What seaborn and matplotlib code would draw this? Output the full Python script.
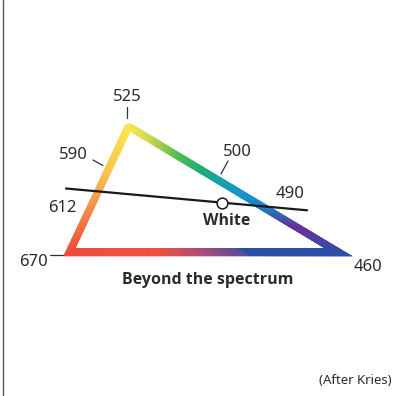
import numpy as np
import pandas as pd
import matplotlib
matplotlib.use("Agg")
import matplotlib.pyplot as plt
import seaborn as sns
from matplotlib.collections import PolyCollection
from matplotlib.colors import LinearSegmentedColormap
from matplotlib.patches import Polygon

# corners of the colour triangle (picture coordinates, y grows downward)
corner_names = ["670", "525", "460"]
corner_x = [63.3, 127.0, 352.7]
corner_y = [256.3, 121.0, 256.3]

# colour stops along each side (fraction along side, colour)
left_stops = [(0.0, "#ee4b3a"), (0.36, "#f3904c"), (0.64, "#f7c450"), (1.0, "#f8e64a")]
right_stops = [(0.0, "#f8e64a"), (0.08, "#d8dc50"), (0.17, "#8cc84a"), (0.24, "#4cb84c"),
               (0.35, "#1aa878"), (0.44, "#12a0a8"), (0.54, "#1a94cc"), (0.66, "#1e7ec0"),
               (0.75, "#4a4eaa"), (0.81, "#6a2c9a"), (0.88, "#5a3ca2"), (1.0, "#2b4fa5")]
bottom_stops = [(0.0, "#ee4b3a"), (0.33, "#ee4b3a"), (0.47, "#b04a70"), (0.64, "#5a4c9c"),
                (0.65, "#2b4fa5"), (1.0, "#2b4fa5")]

# mixing line through the white point
mix_x = [66.0, 307.0]
mix_y = [188.5, 210.3]
white_x = [221.7]
white_y = [202.7]

# wavelength labels
wl_labels = ["525", "590", "612", "670", "500", "490", "460"]
wl_x = [127, 73, 62, 33, 237, 290, 368]
wl_y = [97, 155, 208, 262, 152, 194, 267]

# short leader lines
leaders = [((127, 107), (127, 118)), ((93, 160), (103, 165.5)),
           ((228, 161), (221, 174)), ((50, 254.5), (63, 254.5))]


def inner_triangle(px, py, widths):
    pts = np.column_stack([px, py])
    cen = pts.mean(axis=0)
    lines = []
    for i in range(3):
        p, q = pts[i], pts[(i + 1) % 3]
        d = (q - p) / np.linalg.norm(q - p)
        n = np.array([-d[1], d[0]])
        if np.dot(cen - p, n) < 0:
            n = -n
        lines.append((p + widths[i] * n, d))
    inner = []
    for i in range(3):
        p1, d1 = lines[i - 1]
        p2, d2 = lines[i]
        a = np.column_stack([d1, -d2])
        t = np.linalg.solve(a, p2 - p1)
        inner.append(p1 + t[0] * d1)
    return pts, np.array(inner)


def rounded_outline(pts, k, r):
    v = pts[k]
    u = pts[k - 1] - v
    u /= np.linalg.norm(u)
    w = pts[(k + 1) % 3] - v
    w /= np.linalg.norm(w)
    phi = np.arccos(np.dot(u, w)) / 2
    dist = r / np.tan(phi)
    t1, t2 = v + dist * u, v + dist * w
    bis = (u + w) / np.linalg.norm(u + w)
    c = v + r / np.sin(phi) * bis
    a1 = np.arctan2(*(t1 - c)[::-1])
    a2 = np.arctan2(*(t2 - c)[::-1])
    if a2 - a1 > np.pi:
        a2 -= 2 * np.pi
    elif a1 - a2 > np.pi:
        a1 -= 2 * np.pi
    ang = np.linspace(a1, a2, 20)
    arc = np.column_stack([c[0] + r * np.cos(ang), c[1] + r * np.sin(ang)])
    out = []
    for i in range(3):
        if i == k:
            out.extend(arc)
        else:
            out.append(pts[i])
    return np.array(out)


sns.set_style("white")
plt.rcParams["font.family"] = ["Noto Sans", "DejaVu Sans"]

fig = plt.figure(figsize=(3.99, 3.96), dpi=100)
ax = fig.add_axes([0, 0, 1, 1])

ax.axvline(3, color="#5a5a5a", lw=1.0)

# sides: 0 = left (670 -> 525), 1 = right (525 -> 460), 2 = bottom (460 -> 670)
outer, inner = inner_triangle(corner_x, corner_y, [7.3, 7.3, 8.0])
side_stops = [left_stops, right_stops, bottom_stops]
polys, cols = [], []
n_steps = 240
for i in range(3):
    a, b = outer[i], outer[(i + 1) % 3]
    ai, bi = inner[i], inner[(i + 1) % 3]
    reverse = (i == 2)
    cmap = LinearSegmentedColormap.from_list("side%d" % i, side_stops[i])
    ts = np.linspace(0, 1, n_steps + 1)
    for t0, t1 in zip(ts[:-1], ts[1:]):
        quad = [a + (b - a) * t0, a + (b - a) * t1, ai + (bi - ai) * t1, ai + (bi - ai) * t0]
        tm = (t0 + t1) / 2
        cols.append(cmap(1 - tm if reverse else tm))
        polys.append(quad)

ring = PolyCollection(polys, facecolors=cols, edgecolors=cols, linewidths=0.4, zorder=2)
ax.add_collection(ring)
clip = Polygon(rounded_outline(outer, 1, 6.0), closed=True, transform=ax.transData)
ring.set_clip_path(clip)

# mixing line and white point
mix = pd.DataFrame({"x": mix_x, "y": mix_y})
sns.lineplot(data=mix, x="x", y="y", color="#1a1a1a", lw=1.6, ax=ax, zorder=3)
sns.scatterplot(x=white_x, y=white_y, s=60, color="white", edgecolor="#1a1a1a",
                linewidth=1.1, ax=ax, zorder=4)
ax.set_xlim(0, 399)
ax.set_ylim(396, 0)
ax.axis("off")

for (x0, y0), (x1, y1) in leaders:
    ax.plot([x0, x1], [y0, y1], color="#333333", lw=0.9, zorder=3)

txt = "#2b2b2b"
for lab, x, y in zip(wl_labels, wl_x, wl_y):
    ax.text(x, y, lab, ha="center", va="center", fontsize=12, color=txt)

bold_font = ["Open Sans", "DejaVu Sans"]
ax.text(227, 221, "White", ha="center", va="center", fontsize=11.5,
        fontweight="bold", color=txt, family=bold_font)
ax.text(208, 280, "Beyond the spectrum", ha="center", va="center", fontsize=11.5,
        fontweight="bold", color=txt, family=bold_font)
ax.text(355, 380, "(After Kries)", ha="center", va="center", fontsize=9.5, color=txt)

fig.savefig("out.png", dpi=100)
